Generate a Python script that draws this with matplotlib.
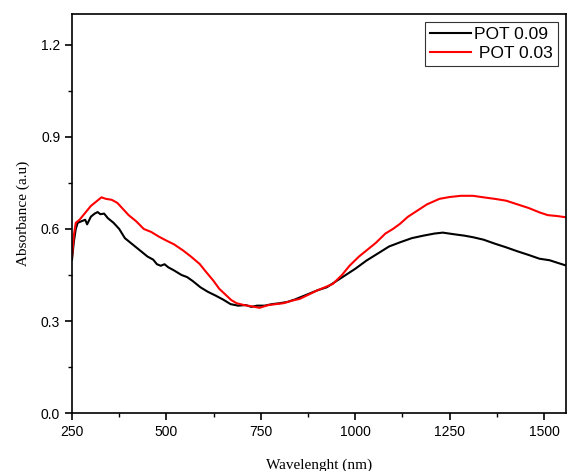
import matplotlib
matplotlib.use("Agg")
import matplotlib.pyplot as plt
from matplotlib.ticker import MultipleLocator

# POT 0.09 (black)
wl_09 = [250, 255, 260, 265, 275, 285, 290, 300, 310, 318, 325, 335, 345, 360, 375,
         390, 405, 420, 435, 450, 465, 475, 485, 495, 505, 520, 540, 555, 570, 590,
         610, 630, 650, 670, 690, 710, 725, 740, 760, 780, 800, 820, 840, 860, 880,
         900, 925, 950, 975, 1000, 1030, 1060, 1090, 1120, 1150, 1180, 1210, 1232,
         1260, 1290, 1312, 1340, 1370, 1400, 1430, 1460, 1488, 1515, 1535, 1558]
abs_09 = [0.50, 0.56, 0.60, 0.62, 0.625, 0.63, 0.615, 0.64, 0.65, 0.655, 0.648, 0.65,
          0.635, 0.62, 0.60, 0.57, 0.555, 0.54, 0.525, 0.51, 0.50, 0.485, 0.48, 0.485,
          0.475, 0.465, 0.45, 0.443, 0.43, 0.41, 0.395, 0.383, 0.37, 0.355, 0.35, 0.352,
          0.346, 0.35, 0.35, 0.355, 0.358, 0.362, 0.37, 0.38, 0.39, 0.40, 0.41, 0.43,
          0.45, 0.47, 0.497, 0.52, 0.543, 0.557, 0.57, 0.578, 0.585, 0.588, 0.583, 0.578,
          0.573, 0.565, 0.552, 0.54, 0.527, 0.515, 0.503, 0.498, 0.49, 0.481]

# POT 0.03 (red)
wl_03 = [250, 255, 260, 270, 280, 290, 300, 315, 328, 340, 355, 370, 385, 400, 420,
         440, 460, 480, 500, 520, 544, 565, 588, 605, 624, 640, 659, 672, 686, 705,
         725, 747, 770, 790, 810, 835, 853, 875, 900, 920, 941, 965, 985, 1010, 1030,
         1055, 1080, 1100, 1118, 1140, 1165, 1190, 1223, 1250, 1280, 1312, 1340, 1370,
         1400, 1430, 1460, 1488, 1510, 1535, 1558]
abs_03 = [0.51, 0.58, 0.62, 0.63, 0.645, 0.66, 0.675, 0.69, 0.703, 0.698, 0.695, 0.685,
          0.665, 0.645, 0.625, 0.60, 0.59, 0.575, 0.562, 0.55, 0.53, 0.51, 0.486, 0.46,
          0.432, 0.405, 0.383, 0.368, 0.358, 0.352, 0.348, 0.343, 0.352, 0.355, 0.358,
          0.367, 0.372, 0.385, 0.40, 0.41, 0.421, 0.45, 0.48, 0.51, 0.53, 0.555, 0.585,
          0.60, 0.616, 0.64, 0.66, 0.68, 0.698, 0.704, 0.708, 0.708, 0.703, 0.698, 0.692,
          0.68, 0.668, 0.654, 0.645, 0.642, 0.638]

x_ticks = [250, 500, 750, 1000, 1250, 1500]
y_ticks = [0.0, 0.3, 0.6, 0.9, 1.2]

fig = plt.figure(figsize=(5.67, 4.71), dpi=100)
ax = fig.add_axes([0.127, 0.123, 0.871, 0.847])

ax.plot(wl_09, abs_09, color="black", lw=1.5, label="POT 0.09")
ax.plot(wl_03, abs_03, color="red", lw=1.5, label=" POT 0.03")

ax.set_xlim(250, 1558)
ax.set_ylim(0, 1.3)
ax.set_xticks(x_ticks)
ax.set_yticks(y_ticks)
ax.set_yticklabels([f"{v:.1f}" for v in y_ticks])
ax.xaxis.set_minor_locator(MultipleLocator(125))
ax.yaxis.set_minor_locator(MultipleLocator(0.15))
ax.tick_params(which="major", direction="out", length=5, width=1.2,
               top=False, right=False, labelsize=10)
ax.tick_params(which="minor", direction="out", length=3, width=1.0,
               top=False, right=False)
for lbl in ax.get_xticklabels() + ax.get_yticklabels():
    lbl.set_fontfamily("Liberation Sans")
for sp in ax.spines.values():
    sp.set_linewidth(1.2)

ax.set_xlabel("Wavelenght (nm)", fontfamily="Liberation Serif", fontsize=11, labelpad=14)
ax.set_ylabel("Absorbance (a.u)", fontfamily="Liberation Serif", fontsize=11, labelpad=8)

leg = ax.legend(loc="upper right", prop={"family": "Liberation Sans", "size": 12.5},
                frameon=True, fancybox=False, edgecolor="black", handlelength=2.4,
                borderpad=0.3, labelspacing=0.2, handletextpad=0.15,
                borderaxespad=0.45)
leg.get_frame().set_linewidth(0.8)

fig.savefig("out.png", dpi=100)
